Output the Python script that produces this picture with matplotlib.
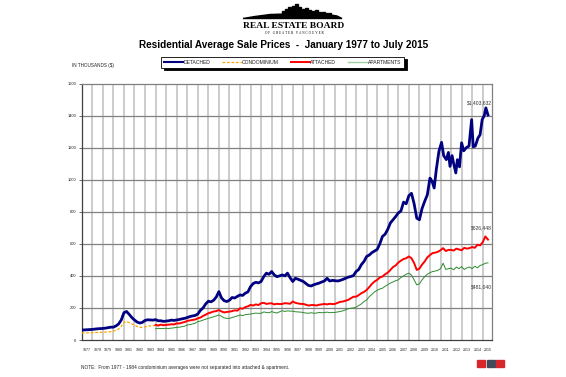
import matplotlib
matplotlib.use('Agg')
import matplotlib.pyplot as plt
import numpy as np
from matplotlib.patches import Rectangle, Polygon

plt.rcParams['font.family'] = ['Liberation Sans', 'DejaVu Sans']

# ---------------- data (thousands of $) ----------------
quarters_77_09 = np.arange(1977.0, 2010.0, 0.25)
detached_77_09 = [
    62, 63, 64, 65,   66, 68, 70, 71,   72, 74, 77, 80,   80, 88, 100, 125,
    170, 178, 160, 140,   125, 112, 106, 110,   122, 126, 125, 124,   127, 120, 120, 116,
    118, 120, 124, 122,   125, 128, 132, 135,   140, 146, 150, 153,   162, 185, 200, 225,
    242, 238, 248, 268,   302, 262, 245, 240,   248, 265, 262, 272,   281, 278, 292, 300,
    333, 352, 360, 356,   365, 395, 417, 410,   427, 406, 395, 400,   406, 400, 417, 388,
    365, 385, 379, 372,   365, 352, 340, 337,   345, 350, 355, 362,   368, 385, 368, 372,
    370, 368, 372, 378,   385, 392, 396, 402,   427, 440, 470, 490,   521, 530, 545, 555,
    565, 600, 646, 660,   690, 730, 750, 770,   792, 805, 860, 850,   900, 915, 850, 760,
    750, 820, 865, 905,
]
years_10_15 = [2010.0, 2010.2, 2010.4, 2010.6, 2010.85, 2011.1, 2011.3, 2011.55, 2011.75,
               2011.9, 2012.1, 2012.25, 2012.45, 2012.6, 2012.8, 2013.0, 2013.2, 2013.45,
               2013.7, 2013.95, 2014.1, 2014.3, 2014.55, 2014.75, 2014.95, 2015.15,
               2015.3, 2015.5]
detached_10_15 = [1010, 990, 948, 1062, 1177, 1233, 1150, 1125, 1170,
                  1083, 1150, 1100, 1042, 1125, 1080, 1230, 1180, 1200,
                  1210, 1375, 1205, 1210, 1260, 1280, 1375, 1400,
                  1448, 1403.632]

condo_years = np.arange(1977.0, 1984.01, 0.25)
condo = [43, 44, 44, 45,   46, 47, 47, 48,   48, 50, 50, 52,   55, 60, 68, 85,
         110, 115, 108, 100,   92, 85, 80, 78,   82, 86, 88, 90,   90]

split_years = np.append(np.arange(1984.0, 2015.26, 0.25), 2015.5)
attached = [
    94, 90, 96, 92,   94, 96, 98, 97,   104, 103, 108, 112,   119, 122, 125, 128,
    135, 140, 150, 158,   167, 172, 178, 180,   187, 178, 172, 175,   177, 180, 185, 183,
    198, 195, 205, 210,   219, 215, 222, 218,   229, 232, 225, 228,   229, 222, 226, 224,
    225, 230, 228, 226,   240, 232, 228, 225,   225, 220, 215, 218,   218, 215, 220, 222,
    225, 222, 226, 224,   225, 232, 238, 240,   245, 250, 260, 270,   270, 280, 292, 300,
    312, 330, 350, 365,   375, 390, 396, 410,   420, 437, 455, 465,   483, 495, 505, 510,
    521, 510, 480, 437,   445, 470, 490, 515,   530, 542, 545, 550,   560, 573, 555, 562,
    562, 558, 570, 565,   560, 575, 570, 573,   580, 575, 594, 590,   610, 646, 626.448,
]
apartments = [
    70, 73, 71, 72,   73, 72, 74, 76,   79, 80, 83, 86,   94, 96, 100, 104,
    115, 118, 124, 130,   135, 140, 145, 150,   156, 148, 138, 135,   135, 140, 145, 150,
    156, 152, 158, 160,   162, 165, 168, 166,   167, 175, 172, 170,   177, 172, 168, 176,
    183, 178, 182, 180,   180, 176, 175, 174,   171, 168, 167, 170,   167, 168, 172, 170,
    171, 174, 170, 172,   172, 175, 178, 182,   188, 195, 198, 200,   205, 215, 225, 240,
    250, 270, 285, 300,   310, 318, 323, 335,   345, 355, 362, 370,   375, 390, 400, 410,
    417, 405, 375, 344,   350, 375, 395, 410,   420, 427, 430, 435,   445, 479, 440, 445,
    448, 438, 455, 445,   458, 440, 450, 455,   445, 460, 450, 465,   470, 479, 481.040,
]

labels = ['DETACHED', 'CONDOMINIUM', 'ATTACHED', 'APARTMENTS']
year_labels = [str(y) for y in range(1977, 2016)]
y_ticks = list(range(0, 1601, 200))
end_labels = ['$1,403,632', '$626,448', '$481,040']

# ---------------- figure ----------------
fig = plt.figure(figsize=(5.66, 3.77), dpi=100)
ax = fig.add_axes([81.7 / 566, 37 / 377, (492 - 81.7) / 566, (340 - 83.5) / 377])

detached_years = np.concatenate([quarters_77_09, years_10_15])
detached = list(detached_77_09) + list(detached_10_15)

l_det, = ax.plot(detached_years, detached, color='#000080', lw=2.0, zorder=5, label=labels[0])
l_con, = ax.plot(condo_years, condo, color='#ffa500', lw=0.9, ls=(0, (2.2, 1.4)), zorder=4, label=labels[1])
l_att, = ax.plot(split_years, attached, color='#ff0000', lw=1.4, zorder=4, label=labels[2])
l_apt, = ax.plot(split_years, apartments, color='#2e8b2e', lw=0.7, zorder=3, label=labels[3])

ax.set_xlim(1977, 2015.88)
ax.set_ylim(0, 1600)

# grids
for yr in range(1978, 2016):
    ax.axvline(yr, color='#cccccc', lw=1.4, zorder=1)
for v in y_ticks[1:-1]:
    ax.axhline(v, color='#808080', lw=0.9, zorder=2)

ax.set_yticks(y_ticks)
ax.set_yticklabels([str(v) for v in y_ticks], fontsize=2.9, color='#222222')
ax.set_xticks([y + 0.5 for y in range(1977, 2016)])
ax.set_xticklabels(year_labels, fontsize=2.6, color='#222222')
ax.tick_params(axis='x', length=0, pad=6)
ax.tick_params(axis='y', length=2.0, width=0.6, color='#555555', pad=2)
for s in ax.spines.values():
    s.set_color('#808080')
    s.set_linewidth(0.9)
ax.spines['left'].set_color('#404040')
ax.spines['bottom'].set_color('#404040')

# end labels
ax.text(2015.85, 1481, end_labels[0], fontsize=3.6, ha='right', va='center', color='#333333')
ax.text(2015.85, 700, end_labels[1], fontsize=3.6, ha='right', va='center', color='#333333')
ax.text(2015.85, 334, end_labels[2], fontsize=3.6, ha='right', va='center', color='#333333')

# legend
leg = ax.legend(handles=[l_det, l_con, l_att, l_apt], ncol=4, loc='center',
                bbox_to_anchor=(156.7 / 566, 1 - 67 / 377, (408.3 - 156.7) / 566, 10 / 377),
                bbox_transform=fig.transFigure,
                fontsize=3.6, handlelength=3.9, handletextpad=0.0, columnspacing=2.4,
                frameon=True, fancybox=False, shadow={'color': 'black', 'alpha': 1},
                borderpad=0.6, borderaxespad=0)
leg.get_frame().set_edgecolor('black')
leg.get_frame().set_linewidth(0.6)
for t in leg.get_texts():
    t.set_color('#222222')
leg.legend_handles[0].set_linewidth(1.5)
leg.legend_handles[3].set_color('#9fd19f')
leg.legend_handles[3].set_linewidth(1.0)

# titles and notes
fig.text(0.501, 1 - 44.5 / 377, 'Residential Average Sale Prices  -  January 1977 to July 2015',
         fontsize=7.2, fontweight='bold', ha='center', va='center')
fig.text(72 / 566, 1 - 66 / 377, 'IN THOUSANDS ($)', fontsize=3.3, ha='left', va='center', color='#222222')
fig.text(80.7 / 566, 1 - 367.5 / 377,
         'NOTE:  From 1977 - 1984 condominium averages were not separated into attached & apartment.',
         fontsize=3.4, ha='left', va='center', color='#222222')

# logo
fig.text(294 / 566, 1 - 25.8 / 377, 'REAL ESTATE BOARD', fontsize=6.8, fontweight='bold',
         family='Liberation Serif', ha='center', va='center')
fig.text(294 / 566, 1 - 32.8 / 377, 'O F   G R E A T E R   V A N C O U V E R', fontsize=2.4,
         family='Liberation Serif', ha='center', va='center')
W, H = 566.0, 377.0
def fp(x, y):
    return (x / W, 1 - y / H)
hill = [fp(243, 18.5), fp(255, 16.5), fp(270, 14.5), fp(300, 13.5), fp(325, 14),
        fp(337, 16), fp(342, 18.5)]
fig.patches.append(Polygon(hill, closed=True, transform=fig.transFigure, color='black'))
for (x0, w, h) in [(282, 2, 5), (285, 2, 7), (288, 3, 9), (292, 2, 10), (295, 3, 12),
                   (299, 2, 9), (302, 2, 7), (305, 3, 8), (309, 2, 6), (312, 2, 5),
                   (315, 3, 6), (319, 2, 4), (322, 3, 4), (326, 2, 3), (329, 2, 3)]:
    fig.patches.append(Rectangle(fp(x0, 16), w / W, h / H, transform=fig.transFigure, color='black'))

# small icons bottom right
for (x0, c) in [(477, '#d9262b'), (486.5, '#404a5a'), (496, '#d9262b')]:
    fig.patches.append(Rectangle(fp(x0, 367), 8 / W, 7 / H, transform=fig.transFigure, color=c))

fig.savefig('out.png', dpi=100)
